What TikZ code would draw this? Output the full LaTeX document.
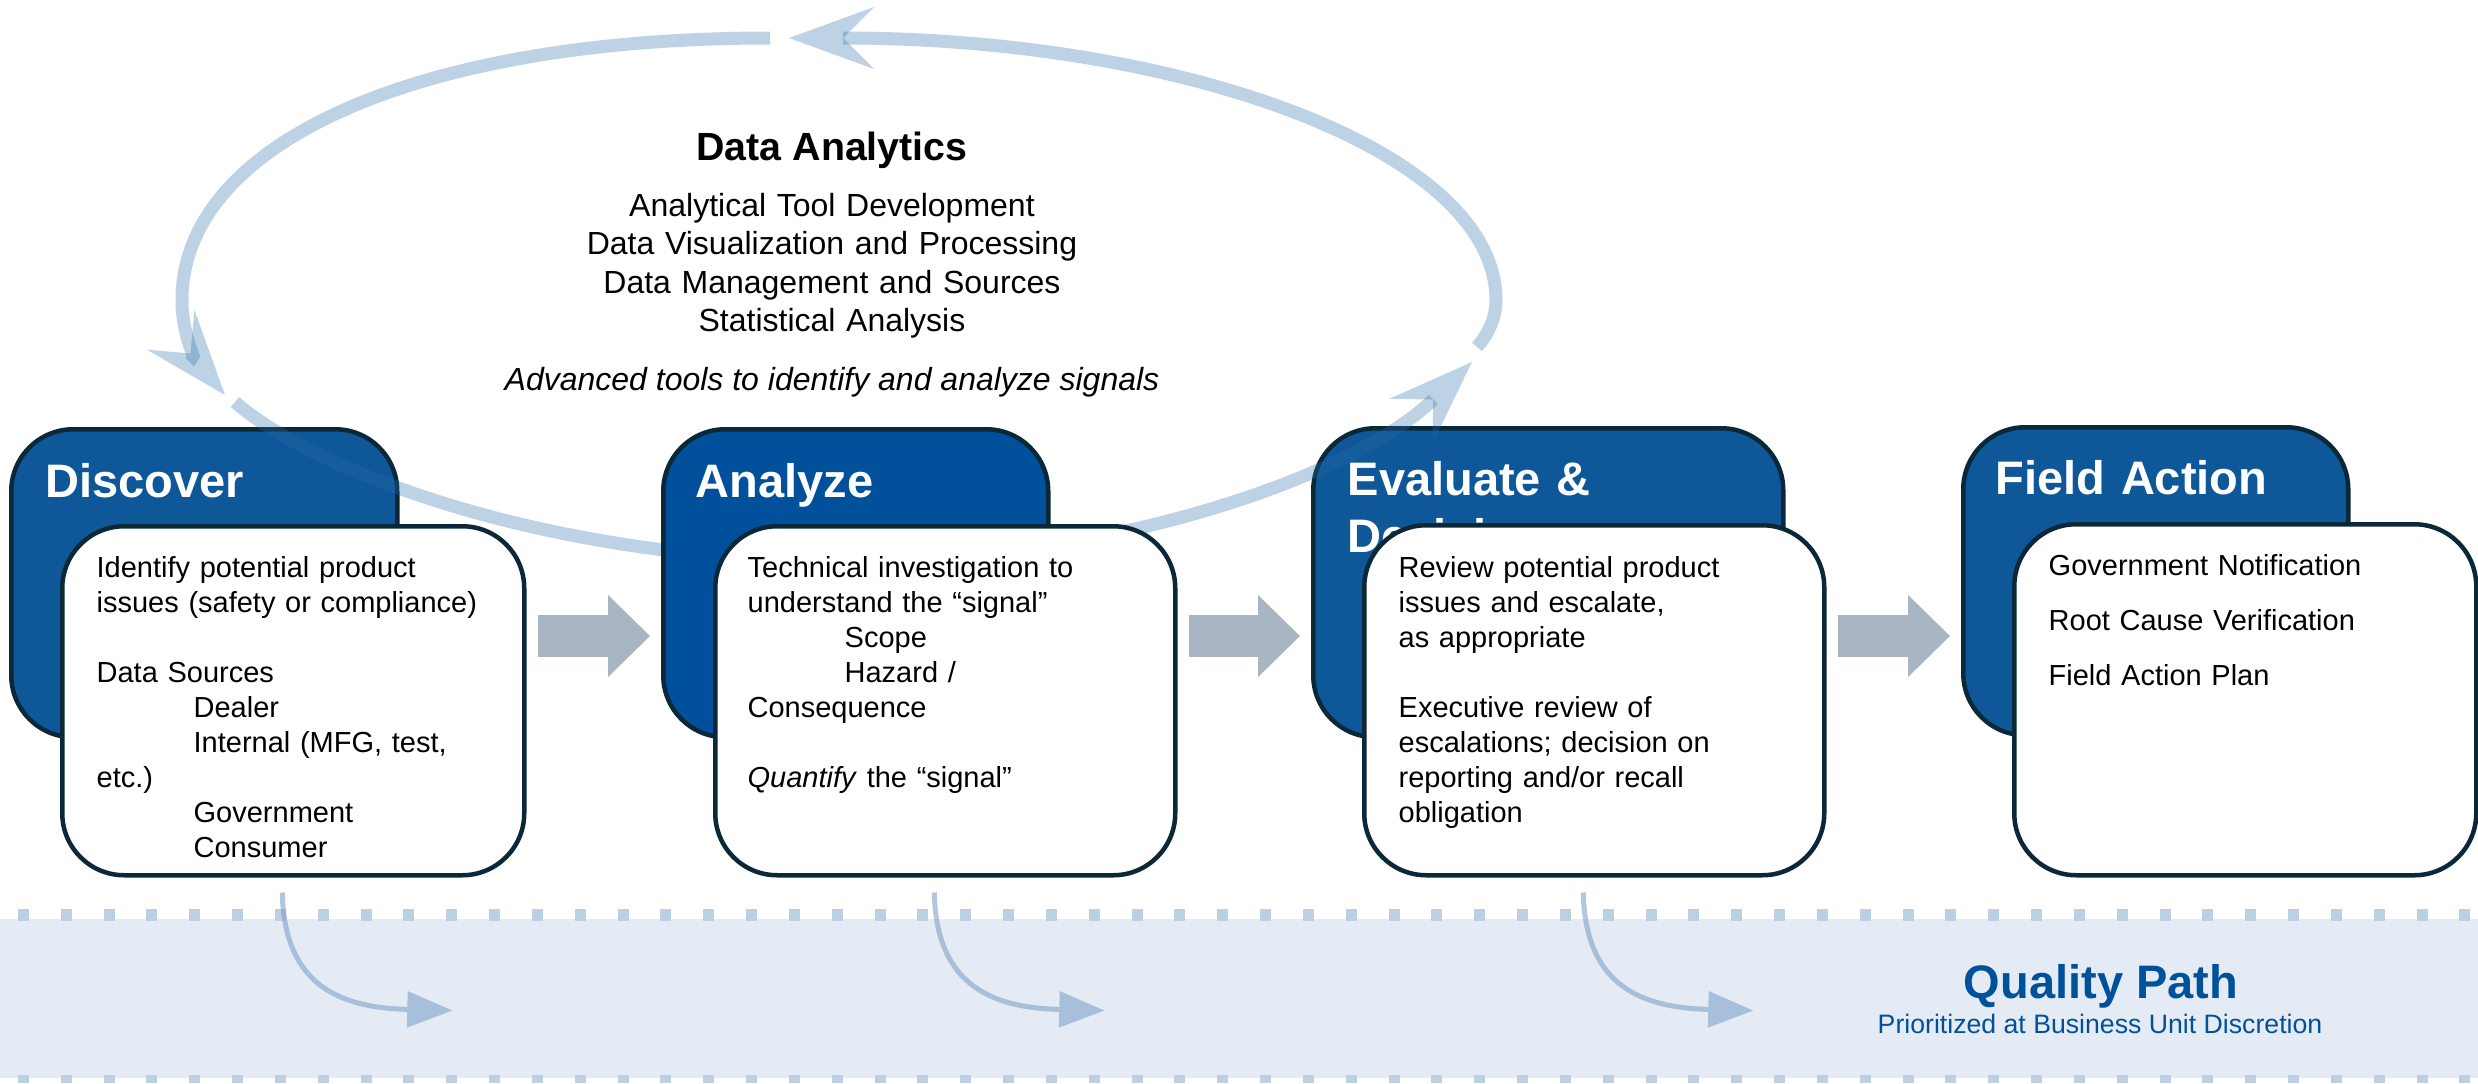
\documentclass[tikz,border=0pt]{standalone}
\usepackage{fontspec}
\setmainfont{Liberation Sans}
\usetikzlibrary{arrows.meta,calc}
\definecolor{boxblue}{HTML}{0E5799}
\definecolor{anablue}{HTML}{00509B}
\definecolor{boxline}{HTML}{0B2838}
\definecolor{garrow}{HTML}{A9B5C3}
\definecolor{bandfill}{HTML}{E4EBF5}
\definecolor{banddash}{HTML}{BCCFE3}
\definecolor{loopcol}{HTML}{2A6CAC}
\definecolor{qpblue}{HTML}{00519B}
\definecolor{dropcol}{HTML}{7FA3CB}
\begin{document}
\begin{tikzpicture}[x=0.3pt,y=-0.3pt,
  bluebox/.style={draw=boxline, line width=1.35pt, fill=boxblue, rounded corners=18.6pt, anchor=north west, inner sep=0pt},
  whitebox/.style={draw=boxline, line width=1.35pt, fill=white, rounded corners=18.6pt, anchor=north west, inner sep=0pt},
  boxtitle/.style={anchor=base west, inner sep=0pt, text=white, font=\fontsize{14.1pt}{17.1pt}\selectfont\bfseries, align=left, text width=140pt},
  bodytext/.style={anchor=base west, inner sep=0pt, font=\fontsize{8.7pt}{10.5pt}\selectfont, align=left, text width=128pt},
  flowarrow/.style={draw=garrow, line width=12.6pt, -{Triangle[length=12.6pt,width=24.6pt,line width=0pt]}},
  loopline/.style={draw=loopcol, opacity=0.3, line width=3.9pt, -{Stealth[length=25.5pt,width=18.6pt,inset=9.3pt,line width=0pt]}},
  droparrow/.style={draw=dropcol, opacity=0.6, line width=1.5pt, -{Triangle[length=13.5pt,width=11pt,line width=0pt]}},
]
\useasboundingbox (0,0) rectangle (2478,1083);
\fill[white] (0,0) rectangle (2478,1083);

% quality band
\fill[bandfill] (0,919) rectangle (2478,1078);
\foreach \i in {0,...,57} {
  \fill[banddash] ({18+42.83*\i},909) rectangle ++(11,12);
  \fill[banddash] ({18+42.83*\i},1075) rectangle ++(11,8);
}
\node[anchor=base, text=qpblue, inner sep=0pt, font=\fontsize{14.1pt}{17pt}\selectfont\bfseries] (qp) at (2101,998) {Quality Path};
\node[anchor=base, text=qpblue, inner sep=0pt, font=\fontsize{8pt}{10pt}\selectfont] (qs) at (2100,1033) {Prioritized at Business Unit Discretion};

% Data Analytics text
\node[anchor=base, inner sep=0pt, font=\fontsize{11.8pt}{14pt}\selectfont\bfseries] (dat) at (832,160) {Data Analytics};
\node[anchor=base, inner sep=0pt, text width=250pt, align=center, font=\fontsize{9.6pt}{11.55pt}\selectfont] (dal) at (832,216) {Analytical Tool Development\\Data Visualization and Processing\\Data Management and Sources\\Statistical Analysis};
\node[anchor=base, inner sep=0pt, font=\fontsize{9.6pt}{11.55pt}\selectfont\itshape] (dai) at (832,390) {Advanced tools to identify and analyze signals};

% Discover
\node[bluebox, minimum width=115.8pt, minimum height=92.4pt] (db) at (9,427) {};
\node[boxtitle] (dt) at (45,497) {Discover};
\node[whitebox, minimum width=138.6pt, minimum height=104.7pt] (dw) at (60,524) {};
\node[bodytext] (dx) at (96,577) {Identify potential product\\issues (safety or compliance)\\[10.5pt]Data Sources\\\hspace*{29.1pt}Dealer\\\hspace*{29.1pt}Internal (MFG, test,\\etc.)\\\hspace*{29.1pt}Government\\\hspace*{29.1pt}Consumer};

% Evaluate & Decision
\node[bluebox, minimum width=141pt, minimum height=92.7pt] (eb) at (1311,426) {};
\node[boxtitle] (et) at (1347,495) {Evaluate \&\\Decision};
\node[whitebox, minimum width=138pt, minimum height=105pt] (ew) at (1362,523) {};
\node[bodytext] (ex) at (1398,577) {Review potential product\\issues and escalate,\\as appropriate\\[10.5pt]Executive review of\\escalations; decision on\\reporting and/or recall\\obligation};

% Field Action
\node[bluebox, minimum width=115.5pt, minimum height=92.4pt] (fb) at (1961,425) {};
\node[boxtitle] (ft) at (1995,494) {Field Action};
\node[whitebox, minimum width=138.6pt, minimum height=105.3pt] (fw) at (2012,522) {};
\node[bodytext] (fx) at (2048,575) {Government Notification\\[6pt]Root Cause Verification\\[6pt]Field Action Plan};

% Data analytics loop
\draw[loopline] (235,402) .. controls (300,460) and (520,560) .. (850,562) .. controls (1100,562) and (1350,480) .. (1472,362);
\draw[loopline] (1477,347) .. controls (1490,332) and (1496,316) .. (1496,300) .. controls (1496,150) and (1180,38) .. (789,38);
\draw[loopline] (770,38) .. controls (417,38) and (182,143) .. (182,300) .. controls (182,340) and (200,365) .. (225,395);

% Analyze
\node[bluebox, fill=anablue, minimum width=115.5pt, minimum height=92.4pt] (ab) at (661,427) {};
\node[boxtitle] (at) at (695,497) {Analyze};
\node[whitebox, minimum width=138pt, minimum height=104.7pt] (aw) at (713,524) {};
\node[bodytext] (ax) at (747,577) {Technical investigation to\\understand the “signal”\\\hspace*{29.1pt}Scope\\\hspace*{29.1pt}Hazard /\\Consequence\\[10.5pt]\textit{Quantify} the “signal”};

% flow arrows
\coordinate (ar) at (0,636);
\draw[flowarrow] ($(dw.east |- ar)+(11,0)$) -- ($(ab.west |- ar)+(-11,0)$);
\draw[flowarrow] ($(aw.east |- ar)+(11,0)$) -- ($(eb.west |- ar)+(-11,0)$);
\draw[flowarrow] ($(ew.east |- ar)+(11,0)$) -- ($(fb.west |- ar)+(-11,0)$);

% drop arrows into quality path
\foreach \b/\n in {dw/q1, aw/q2, ew/q3} {
  \coordinate (\n) at ($(\b.south)+(-11,15)$);
  \coordinate (\n e) at ($(\n)+(170,118)$);
  \draw[droparrow] (\n) .. controls ($(\n)+(2,87)$) and ($(\n)+(50,115)$) .. (\n e);
}
\end{tikzpicture}
\end{document}
